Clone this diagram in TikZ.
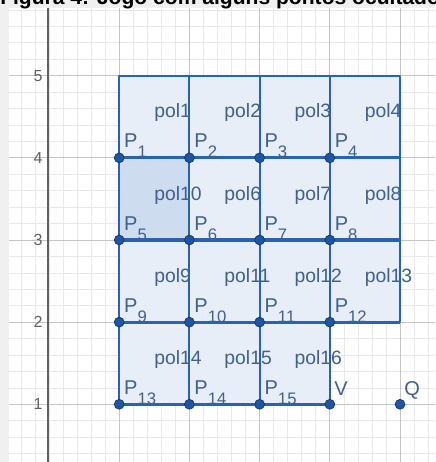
\documentclass[tikz,border=0pt]{standalone}
\usepackage{fontspec}
\setmainfont{Liberation Sans}

\definecolor{geoblue}{RGB}{38,100,178}
\definecolor{polyfill}{RGB}{231,238,248}
\definecolor{polyshade}{RGB}{206,220,240}
\definecolor{ptblue}{RGB}{28,86,164}
\definecolor{ptedge}{RGB}{16,52,108}
\definecolor{labblue}{RGB}{64,96,142}
\definecolor{gridminor}{RGB}{232,232,232}
\definecolor{gridmajor}{RGB}{196,196,196}
\definecolor{axisgray}{RGB}{96,96,96}
\definecolor{bandgray}{RGB}{240,240,240}

% 下标标签
\newcommand{\Plab}[1]{P\raisebox{-7.5pt}{\fontsize{12.5}{12.5}\selectfont #1}}

\begin{document}
\begin{tikzpicture}[
    x=52.65pt, y=61.61pt,
    % 定义样式
    minorgrid/.style={draw=gridminor, line width=0.5pt},
    majorgrid/.style={draw=gridmajor, line width=0.7pt},
    axisline/.style={draw=axisgray, line width=1pt},
    poly/.style={fill=polyfill, draw=geoblue, line width=1.6pt, line join=round},
    polyshaded/.style={poly, fill=polyshade},
    seg/.style={draw=geoblue, line width=2.4pt},
    pt/.style={circle, fill=ptblue, draw=ptedge, line width=0.5pt, inner sep=0pt, minimum size=7.4pt},
    ptlabel/.style={anchor=base west, inner sep=0pt, text=labblue, font=\fontsize{15}{15}\selectfont},
    pollabel/.style={anchor=base west, inner sep=0pt, text=labblue, font=\fontsize{14.5}{14.5}\selectfont},
    ticklabel/.style={inner sep=0pt, text=axisgray, font=\fontsize{12}{12}\selectfont},
    caption/.style={anchor=base west, inner sep=0pt, font=\fontsize{15.8}{15.8}\selectfont\bfseries}
]

\useasboundingbox (-0.698,0.2976) rectangle (5.499,5.9215);
\clip (-0.698,0.2976) rectangle (5.499,5.9215);

% --- 背景和网格 ---
\fill[white] (-0.698,0.2976) rectangle (5.499,5.9215);
\foreach \x in {-0.4,-0.2,...,5.45}
  \draw[minorgrid] (\x,0.2976) -- (\x,5.824);
\foreach \y in {0.4,0.6,...,5.85}
  \draw[minorgrid] (-0.57,\y) -- (5.499,\y);
\foreach \x in {1,...,5}
  \draw[majorgrid] (\x,0.2976) -- (\x,5.824);
\foreach \y in {1,...,5}
  \draw[majorgrid] (-0.57,\y) -- (5.499,\y);
\fill[bandgray] (-0.698,0.2976) rectangle (-0.57,5.9215);
\fill[bandgray] (-0.698,5.824) rectangle (5.499,5.9215);
\draw[axisline] (-0.014,0.2976) -- (-0.014,5.824);

% 坐标轴刻度
\foreach \y in {1,...,5}
  \node[ticklabel] (tick\y) at (-0.157,\y) {\y};

% 标题 (被截断)
\node[caption] (caption) at (-0.698,5.867) {Figura 4: Jogo com alguns pontos ocultados};

% --- 点的坐标 ---
\coordinate (T1) at (1,5);
\coordinate (T2) at (2,5);
\coordinate (T3) at (3,5);
\coordinate (T4) at (4,5);
\coordinate (T5) at (5,5);
\coordinate (P1) at (1,4);
\coordinate (P2) at (2,4);
\coordinate (P3) at (3,4);
\coordinate (P4) at (4,4);
\coordinate (R4) at (5,4);
\coordinate (P5) at (1,3);
\coordinate (P6) at (2,3);
\coordinate (P7) at (3,3);
\coordinate (P8) at (4,3);
\coordinate (R3) at (5,3);
\coordinate (P9) at (1,2);
\coordinate (P10) at (2,2);
\coordinate (P11) at (3,2);
\coordinate (P12) at (4,2);
\coordinate (R2) at (5,2);
\coordinate (P13) at (1,1);
\coordinate (P14) at (2,1);
\coordinate (P15) at (3,1);
\coordinate (V) at (4,1);
\coordinate (Q) at (5,1);

% --- 多边形 ---
% 第 1 行
\draw[poly] (P1) -- (P2) -- (T2) -- (T1) -- cycle;
\draw[poly] (P2) -- (P3) -- (T3) -- (T2) -- cycle;
\draw[poly] (P3) -- (P4) -- (T4) -- (T3) -- cycle;
\draw[poly] (P4) -- (R4) -- (T5) -- (T4) -- cycle;
% 第 2 行
\draw[polyshaded] (P5) -- (P6) -- (P2) -- (P1) -- cycle;
\draw[poly] (P6) -- (P7) -- (P3) -- (P2) -- cycle;
\draw[poly] (P7) -- (P8) -- (P4) -- (P3) -- cycle;
\draw[poly] (P8) -- (R3) -- (R4) -- (P4) -- cycle;
% 第 3 行
\draw[poly] (P9) -- (P10) -- (P6) -- (P5) -- cycle;
\draw[poly] (P10) -- (P11) -- (P7) -- (P6) -- cycle;
\draw[poly] (P11) -- (P12) -- (P8) -- (P7) -- cycle;
\draw[poly] (P12) -- (R2) -- (R3) -- (P8) -- cycle;
% 第 4 行
\draw[poly] (P13) -- (P14) -- (P10) -- (P9) -- cycle;
\draw[poly] (P14) -- (P15) -- (P11) -- (P10) -- cycle;
\draw[poly] (P15) -- (V) -- (P12) -- (P11) -- cycle;

% --- 线段 ---
\draw[seg] (P1) -- (P2) -- (P3) -- (P4) -- (R4);
\draw[seg] (P5) -- (P6) -- (P7) -- (P8) -- (R3);
\draw[seg] (P9) -- (P10) -- (P11) -- (P12) -- (R2);
\draw[seg] (P13) -- (P14) -- (P15) -- (V);

% --- 多边形标签 ---
\node[pollabel] (lpol1) at ([shift={(0.496,0.485)}]P1) {pol1};
\node[pollabel] (lpol2) at ([shift={(0.496,0.485)}]P2) {pol2};
\node[pollabel] (lpol3) at ([shift={(0.496,0.485)}]P3) {pol3};
\node[pollabel] (lpol4) at ([shift={(0.496,0.485)}]P4) {pol4};
\node[pollabel] (lpol10) at ([shift={(0.496,0.485)}]P5) {pol10};
\node[pollabel] (lpol6) at ([shift={(0.496,0.485)}]P6) {pol6};
\node[pollabel] (lpol7) at ([shift={(0.496,0.485)}]P7) {pol7};
\node[pollabel] (lpol8) at ([shift={(0.496,0.485)}]P8) {pol8};
\node[pollabel] (lpol9) at ([shift={(0.496,0.485)}]P9) {pol9};
\node[pollabel] (lpol11) at ([shift={(0.496,0.485)}]P10) {pol11};
\node[pollabel] (lpol12) at ([shift={(0.496,0.485)}]P11) {pol12};
\node[pollabel] (lpol13) at ([shift={(0.496,0.485)}]P12) {pol13};
\node[pollabel] (lpol14) at ([shift={(0.496,0.485)}]P13) {pol14};
\node[pollabel] (lpol15) at ([shift={(0.496,0.485)}]P14) {pol15};
\node[pollabel] (lpol16) at ([shift={(0.496,0.485)}]P15) {pol16};

% --- 点 ---
\node[pt] (dP1) at (P1) {};
\node[pt] (dP2) at (P2) {};
\node[pt] (dP3) at (P3) {};
\node[pt] (dP4) at (P4) {};
\node[pt] (dP5) at (P5) {};
\node[pt] (dP6) at (P6) {};
\node[pt] (dP7) at (P7) {};
\node[pt] (dP8) at (P8) {};
\node[pt] (dP9) at (P9) {};
\node[pt] (dP10) at (P10) {};
\node[pt] (dP11) at (P11) {};
\node[pt] (dP12) at (P12) {};
\node[pt] (dP13) at (P13) {};
\node[pt] (dP14) at (P14) {};
\node[pt] (dP15) at (P15) {};
\node[pt] (dV) at (V) {};
\node[pt] (dQ) at (Q) {};

% --- 点的标签 ---
\node[ptlabel] (lP1) at ([shift={(0.068,0.12)}]P1) {\Plab{1}};
\node[ptlabel] (lP2) at ([shift={(0.068,0.12)}]P2) {\Plab{2}};
\node[ptlabel] (lP3) at ([shift={(0.068,0.12)}]P3) {\Plab{3}};
\node[ptlabel] (lP4) at ([shift={(0.068,0.12)}]P4) {\Plab{4}};
\node[ptlabel] (lP5) at ([shift={(0.068,0.12)}]P5) {\Plab{5}};
\node[ptlabel] (lP6) at ([shift={(0.068,0.12)}]P6) {\Plab{6}};
\node[ptlabel] (lP7) at ([shift={(0.068,0.12)}]P7) {\Plab{7}};
\node[ptlabel] (lP8) at ([shift={(0.068,0.12)}]P8) {\Plab{8}};
\node[ptlabel] (lP9) at ([shift={(0.068,0.12)}]P9) {\Plab{9}};
\node[ptlabel] (lP10) at ([shift={(0.068,0.12)}]P10) {\Plab{10}};
\node[ptlabel] (lP11) at ([shift={(0.068,0.12)}]P11) {\Plab{11}};
\node[ptlabel] (lP12) at ([shift={(0.068,0.12)}]P12) {\Plab{12}};
\node[ptlabel] (lP13) at ([shift={(0.068,0.12)}]P13) {\Plab{13}};
\node[ptlabel] (lP14) at ([shift={(0.068,0.12)}]P14) {\Plab{14}};
\node[ptlabel] (lP15) at ([shift={(0.068,0.12)}]P15) {\Plab{15}};
\node[ptlabel] (lV) at ([shift={(0.06,0.11)}]V) {V};
\node[ptlabel] (lQ) at ([shift={(0.057,0.11)}]Q) {Q};

\end{tikzpicture}
\end{document}
